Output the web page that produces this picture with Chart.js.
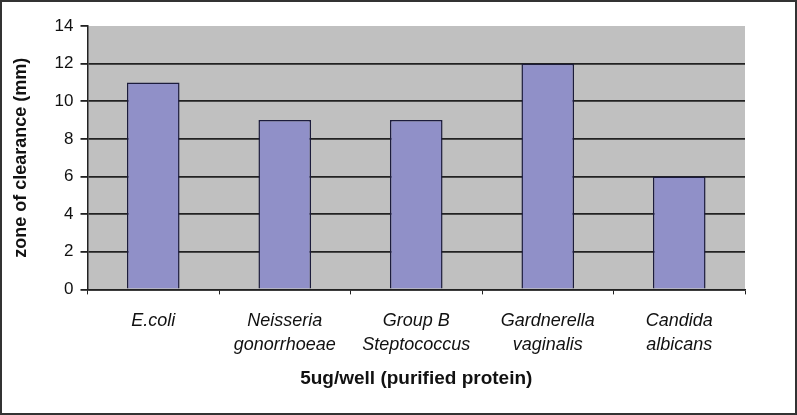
<!DOCTYPE html>
<html>
<head>
<meta charset="utf-8">
<script src="https://cdn.jsdelivr.net/npm/chart.js@4"></script>
<style>
  html, body { margin: 0; padding: 0; background: #fff; }
  #frame { width: 793px; height: 411px; border: 2px solid #333; background: #fff; }
</style>
</head>
<body>
<div id="frame"><canvas id="zoneChart" width="793" height="411"></canvas></div>
<script>
// données
const categories = [['E.coli'], ['Neisseria', 'gonorrhoeae'], ['Group B', 'Steptococcus'], ['Gardnerella', 'vaginalis'], ['Candida', 'albicans']];
const zoneValues = [11, 9, 9, 12, 6];
const yTicks = [0, 2, 4, 6, 8, 10, 12, 14];

// fond gris de la zone de tracé
const plotBg = {
  id: 'plotBg',
  beforeDraw(chart) {
    const a = chart.chartArea;
    const c = chart.ctx;
    c.save();
    c.fillStyle = '#c0c0c0';
    c.fillRect(a.left, a.top, a.right - a.left, a.bottom - a.top);
    c.restore();
  }
};

new Chart(document.getElementById('zoneChart'), {
  type: 'bar',
  data: {
    labels: categories,
    datasets: [{
      data: zoneValues,
      backgroundColor: '#9090c8',
      borderColor: '#1c1c3c',
      borderWidth: 1.5,
      barPercentage: 0.4,
      categoryPercentage: 1
    }]
  },
  options: {
    responsive: false,
    animation: false,
    layout: { padding: { top: 24, right: 50, left: 8, bottom: 23 } },
    plugins: { legend: { display: false }, tooltip: { enabled: false } },
    scales: {
      x: {
        grid: { drawOnChartArea: false, tickColor: '#222', tickLength: 5 },
        border: { color: '#222', width: 1.5 },
        ticks: {
          color: '#111',
          font: { family: 'Liberation Sans', size: 18, style: 'italic', lineHeight: 1.3 },
          padding: 15,
          maxRotation: 0
        },
        title: {
          display: true,
          text: '5ug/well (purified protein)',
          color: '#111',
          font: { family: 'Liberation Sans', size: 19, weight: 'bold' },
          padding: { top: -4, bottom: 0 }
        }
      },
      y: {
        min: 0,
        max: 14,
        afterBuildTicks: axis => { axis.ticks = yTicks.map(v => ({ value: v })); },
        grid: {
          color: ctx => (ctx.tick && ctx.tick.value === 14) ? 'rgba(0,0,0,0)' : '#222',
          lineWidth: 1.8,
          tickColor: '#222',
          tickLength: 7
        },
        border: { color: '#222', width: 1.5 },
        ticks: {
          color: '#111',
          font: { family: 'Liberation Sans', size: 17 },
          padding: 7
        },
        title: {
          display: true,
          text: 'zone of clearance (mm)',
          color: '#111',
          font: { family: 'Liberation Sans', size: 18, weight: 'bold' },
          padding: { top: 0, bottom: 16 }
        }
      }
    }
  },
  plugins: [plotBg]
});
</script>
</body>
</html>
